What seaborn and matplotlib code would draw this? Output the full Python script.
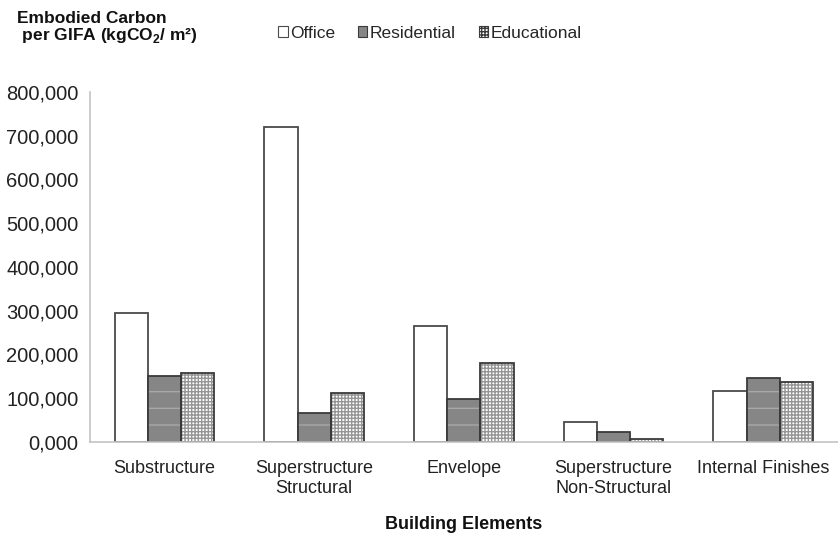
import numpy as np
import pandas as pd
import matplotlib
matplotlib.use("Agg")
import matplotlib.pyplot as plt
import matplotlib.patches as mpatches
import seaborn as sns

# data (kgCO2 / m2)
elements = ["Substructure", "Superstructure\nStructural", "Envelope",
            "Superstructure\nNon-Structural", "Internal Finishes"]
office = [295000, 719000, 266000, 45000, 116000]
residential = [150000, 67000, 97000, 23000, 147000]
educational = [158000, 111000, 181000, 6000, 136000]
series = ["Office", "Residential", "Educational"]
yticks = list(range(0, 800001, 100000))

df = pd.DataFrame({
    "element": elements * 3,
    "type": np.repeat(series, len(elements)),
    "value": office + residential + educational,
})

sns.set_style("white")
plt.rcParams["font.family"] = ["Liberation Sans", "DejaVu Sans"]
plt.rcParams["mathtext.fontset"] = "custom"
plt.rcParams["mathtext.rm"] = "Liberation Sans"
plt.rcParams["mathtext.bf"] = "Liberation Sans:bold"
plt.rcParams["hatch.linewidth"] = 1.0

fig = plt.figure(figsize=(8.38, 5.35), dpi=100)
ax = fig.add_axes([0.107, 0.174, 0.893, 0.654])

sns.barplot(data=df, x="element", y="value", hue="type", hue_order=series,
            order=elements, width=0.667, legend=False, ax=ax)

# fill / hatch / edge for each series
styles = {
    "Office": dict(face="white", hatch=None, hcol=None, edge="#4a4a4a"),
    "Residential": dict(face="#868686", hatch="-", hcol="#a8a8a8", edge="#3a3a3a"),
    "Educational": dict(face="white", hatch="+++++", hcol="#959595", edge="#3a3a3a"),
}
for cont, name in zip(ax.containers, series):
    st = styles[name]
    for p in cont:
        if st["hatch"]:
            p.set_facecolor(st["face"])
            p.set_hatch(st["hatch"])
            p.set_edgecolor(st["hcol"])
            p.set_linewidth(0)
            outline = mpatches.Rectangle(p.get_xy(), p.get_width(), p.get_height(),
                                         facecolor="none", edgecolor=st["edge"],
                                         linewidth=1.3, zorder=p.get_zorder() + 0.1)
            ax.add_patch(outline)
        else:
            p.set_facecolor(st["face"])
            p.set_edgecolor(st["edge"])
            p.set_linewidth(1.3)

ax.set_ylim(0, 800000)
ax.set_xlim(-0.5, len(elements) - 0.5)
ax.set_yticks(yticks)
ax.set_yticklabels([f"{v // 1000},{v % 1000:03d}" for v in yticks], fontsize=14.5, color="#222222")
ax.set_xticks(range(len(elements)))
ax.set_xticklabels(elements, fontsize=13, color="#222222")
ax.set_xticks(np.arange(0.5, len(elements) - 0.5, 1), minor=True)
ax.tick_params(axis="x", which="major", length=0, pad=13)
ax.tick_params(axis="x", which="minor", length=5, color="#bbbbbb", direction="out")
ax.tick_params(axis="y", length=5, color="#bbbbbb", direction="out", pad=3)

for s in ["top", "right"]:
    ax.spines[s].set_visible(False)
for s in ["left", "bottom"]:
    ax.spines[s].set_color("#c4c4c4")
    ax.spines[s].set_linewidth(1.2)

ax.set_ylabel("")
ax.set_xlabel("Building Elements", fontsize=13, fontweight="bold", labelpad=14, color="#111111")

fig.text(0.02, 0.957, "Embodied Carbon", fontsize=12.5, fontweight="bold",
         va="baseline", ha="left", color="#111111")
fig.text(0.02, 0.925, r" per GIFA (kgCO$_\mathbf{2}$/ m²)", fontsize=12.5,
         fontweight="bold", va="baseline", ha="left", color="#111111")

handles = []
for name in series:
    st = styles[name]
    handles.append(mpatches.Patch(facecolor=st["face"], edgecolor=st["edge"],
                                  hatch=st["hatch"], linewidth=0.8, label=name))
fig.legend(handles=handles, loc="center", bbox_to_anchor=(0.513, 0.938), ncol=3,
           frameon=False, fontsize=12.5, handlelength=0.55, handleheight=0.55,
           handletextpad=0.15, columnspacing=1.3)

fig.savefig("out.png", dpi=100)
